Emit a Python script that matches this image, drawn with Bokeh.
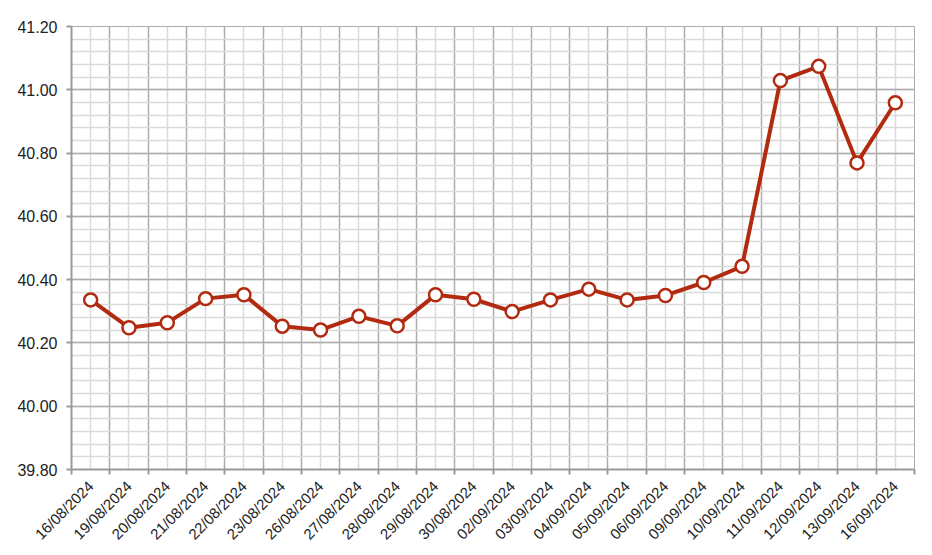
import numpy as np
from bokeh.plotting import figure
from bokeh.models import ColumnDataSource, FixedTicker, CustomJSTickFormatter, NumeralTickFormatter, Range1d
from bokeh.embed import file_html
from bokeh.resources import INLINE

dates = ['16/08/2024', '19/08/2024', '20/08/2024', '21/08/2024', '22/08/2024', '23/08/2024',
         '26/08/2024', '27/08/2024', '28/08/2024', '29/08/2024', '30/08/2024', '02/09/2024',
         '03/09/2024', '04/09/2024', '05/09/2024', '06/09/2024', '09/09/2024', '10/09/2024',
         '11/09/2024', '12/09/2024', '13/09/2024', '16/09/2024']
rates = [40.336, 40.248, 40.264, 40.340, 40.352, 40.253, 40.241, 40.284, 40.254, 40.352, 40.338,
         40.299, 40.336, 40.370, 40.336, 40.350, 40.391, 40.442, 41.029, 41.074, 40.769, 40.959]
y_major = [39.8, 40.0, 40.2, 40.4, 40.6, 40.8, 41.0, 41.2]
y_minor = [round(39.8 + 0.04 * i, 2) for i in range(36)]

n = len(dates)
# points sit in the middle of each date band
xs = [i + 0.5 for i in range(n)]
source = ColumnDataSource(data=dict(x=xs, y=rates))

RED = "#b22a10"
MAJOR = "#acacac"
MINOR = "#dadada"
AXIS = "#9a9a9a"

p = figure(width=924, height=551, output_backend="svg", toolbar_location=None,
           x_range=Range1d(0, n), y_range=Range1d(39.8, 41.2),
           min_border_left=71, min_border_right=10, min_border_top=26, min_border_bottom=82)
p.outline_line_color = MAJOR

# x axis: labels at band centers, ticks/major grid at band edges
p.xaxis.ticker = FixedTicker(ticks=xs, minor_ticks=list(range(n + 1)))
p.xaxis.formatter = CustomJSTickFormatter(args=dict(labels=dates),
                                          code="return labels[Math.round(tick - 0.5)];")
p.xaxis.major_tick_line_color = None
p.xaxis.minor_tick_out = 5
p.xaxis.minor_tick_in = 0
p.xaxis.minor_tick_line_color = AXIS
p.xaxis.minor_tick_line_width = 2
p.xaxis.major_label_orientation = np.pi / 4
p.xaxis.major_label_text_font_size = "15px"
p.xaxis.major_label_standoff = 8

p.xgrid.ticker = FixedTicker(ticks=xs, minor_ticks=list(range(n + 1)))
p.xgrid.grid_line_color = MINOR
p.xgrid.grid_line_width = 1.5
p.xgrid.minor_grid_line_color = MAJOR
p.xgrid.minor_grid_line_width = 1.5

p.yaxis.ticker = FixedTicker(ticks=y_major, minor_ticks=y_minor)
p.yaxis.formatter = NumeralTickFormatter(format="0.00")
p.yaxis.minor_tick_line_color = None
p.yaxis.major_tick_out = 5
p.yaxis.major_tick_in = 0
p.yaxis.major_tick_line_color = AXIS
p.yaxis.major_tick_line_width = 2
p.yaxis.major_label_text_font_size = "16px"
p.yaxis.major_label_standoff = 9

p.ygrid.ticker = FixedTicker(ticks=y_major, minor_ticks=y_minor)
p.ygrid.grid_line_color = MAJOR
p.ygrid.grid_line_width = 1.5
p.ygrid.minor_grid_line_color = MINOR
p.ygrid.minor_grid_line_width = 1.5

for ax in (p.xaxis, p.yaxis):
    ax.axis_line_color = AXIS
    ax.axis_line_width = 2
    ax.major_label_text_font = "Liberation Sans"
    ax.major_label_text_color = "#222222"

p.line('x', 'y', source=source, line_color=RED, line_width=4)
p.scatter('x', 'y', source=source, size=13, fill_color="white", line_color=RED, line_width=2.5)

open("out.html", "w").write(file_html(p, INLINE))
